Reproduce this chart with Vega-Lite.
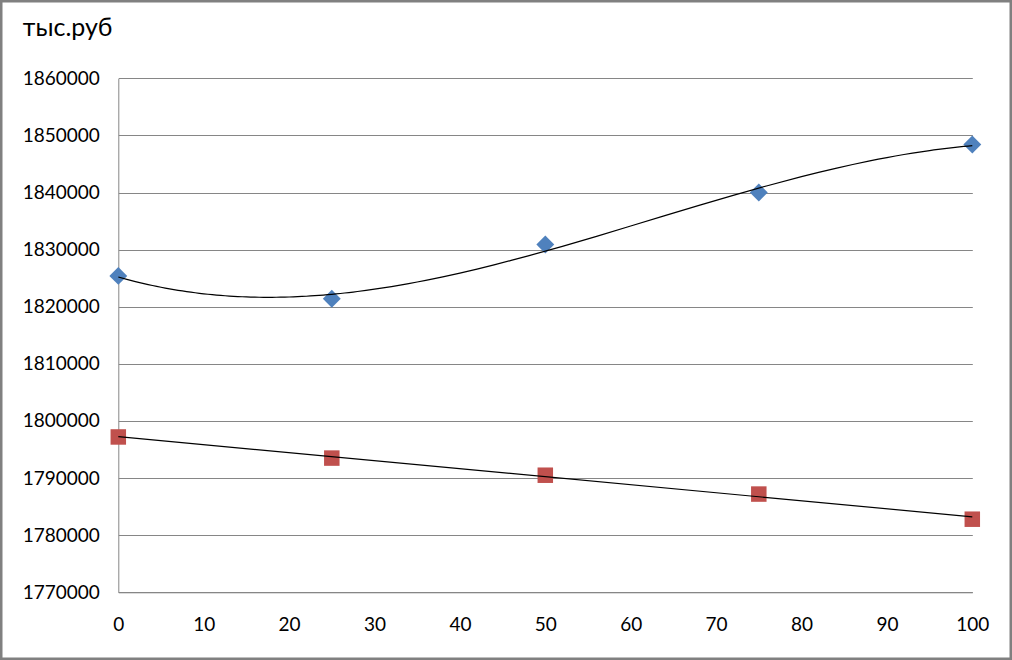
{
  "$schema": "https://vega.github.io/schema/vega-lite/v6.json",
  "width": 1012,
  "height": 660,
  "autosize": {"type": "none"},
  "padding": 0,
  "background": "white",
  "config": {
    "view": {"stroke": "#808080", "strokeWidth": 5},
    "font": "Lato",
    "axis": {"labelFont": "Lato", "titleFont": "Lato"}
  },
  "data": {
    "values": [
      {"x": 0, "series": "A", "value": 1825400},
      {"x": 25, "series": "A", "value": 1821400},
      {"x": 50, "series": "A", "value": 1830900},
      {"x": 75, "series": "A", "value": 1840000},
      {"x": 100, "series": "A", "value": 1848400},
      {"x": 0, "series": "B", "value": 1797200},
      {"x": 25, "series": "B", "value": 1793500},
      {"x": 50, "series": "B", "value": 1790500},
      {"x": 75, "series": "B", "value": 1787200},
      {"x": 100, "series": "B", "value": 1782800}
    ]
  },
  "encoding": {
    "x": {
      "field": "x",
      "type": "quantitative",
      "scale": {"domain": [0, 100], "range": [118.3, 972.3], "nice": false, "zero": false},
      "axis": {
        "values": [0, 10, 20, 30, 40, 50, 60, 70, 80, 90, 100],
        "format": "d",
        "offset": -67.7,
        "grid": false,
        "ticks": false,
        "domain": true,
        "domainColor": "#868686",
        "domainWidth": 1,
        "labelFontSize": 19,
        "labelColor": "#000000",
        "labelPadding": 23,
        "labelFlush": false,
        "labelOverlap": false,
        "title": null
      }
    },
    "y": {
      "field": "value",
      "type": "quantitative",
      "scale": {"domain": [1770000, 1860000], "range": [592.3, 78.3], "nice": false, "zero": false},
      "axis": {
        "values": [1770000, 1780000, 1790000, 1800000, 1810000, 1820000, 1830000, 1840000, 1850000, 1860000],
        "format": "d",
        "offset": -118.3,
        "grid": true,
        "gridColor": "#868686",
        "gridWidth": 1,
        "ticks": false,
        "domain": true,
        "domainColor": "#868686",
        "domainWidth": 1,
        "labelFontSize": 19,
        "labelColor": "#000000",
        "labelPadding": 19,
        "labelFlush": false,
        "labelOverlap": false,
        "title": "тыс.руб",
        "titleAngle": 0,
        "titleAlign": "left",
        "titleBaseline": "alphabetic",
        "titleX": -96,
        "titleY": 35,
        "titleFontSize": 25,
        "titleFontWeight": "normal",
        "titleColor": "#000000"
      }
    }
  },
  "layer": [
    {
      "mark": {"type": "point", "filled": true, "opacity": 1},
      "encoding": {
        "color": {"field": "series", "type": "nominal", "scale": {"domain": ["A", "B"], "range": ["#4F81BD", "#C0504D"]}, "legend": null},
        "shape": {"field": "series", "type": "nominal", "scale": {"domain": ["A", "B"], "range": ["diamond", "square"]}, "legend": null},
        "size": {"field": "series", "type": "nominal", "scale": {"domain": ["A", "B"], "range": [320, 240]}, "legend": null}
      }
    },
    {
      "transform": [
        {"filter": "datum.series === 'A'"},
        {"regression": "value", "on": "x", "method": "poly", "order": 3, "extent": [0, 100]}
      ],
      "mark": {"type": "line", "color": "#000000", "strokeWidth": 1.2},
      "encoding": {}
    },
    {
      "transform": [
        {"filter": "datum.series === 'B'"},
        {"regression": "value", "on": "x", "method": "linear", "extent": [0, 100]}
      ],
      "mark": {"type": "line", "color": "#000000", "strokeWidth": 1.2},
      "encoding": {}
    }
  ]
}
